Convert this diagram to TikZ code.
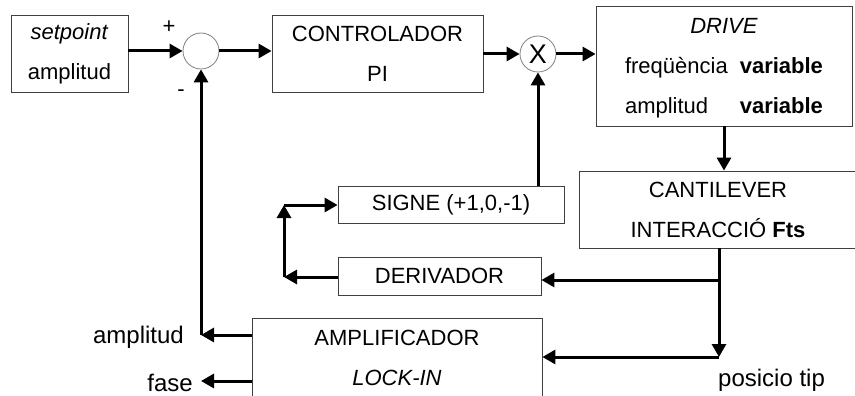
\documentclass[tikz,border=0pt]{standalone}
\usepackage{fontspec}
\setmainfont{Liberation Sans}
\usetikzlibrary{arrows.meta}

\begin{document}
\begin{tikzpicture}[x=1pt, y=-1pt,
  every node/.style={font=\fontsize{22}{40}\selectfont},
  block/.style={draw=black!75, line width=0.8pt, align=center, inner sep=0pt},
  junction/.style={draw=black!50, line width=0.8pt, circle, minimum size=36pt, inner sep=0pt},
  sig/.style={line width=3pt, -{Triangle[length=13pt,width=14pt]}},
  lbl/.style={inner sep=0pt, font=\fontsize{24}{28}\selectfont}]
  \useasboundingbox (0,0) rectangle (855,396);

  % Blocks
  \node[block, minimum width=117pt, minimum height=77pt] (setpoint) at (69.5,53.5) {\textit{setpoint}\\amplitud};
  \node[junction] (sum) at (201,51) {};
  \node[block, minimum width=211pt, minimum height=77pt] (ctrl) at (377.5,53.5) {CONTROLADOR\\PI};
  \node[junction, font=\fontsize{27}{30}\selectfont] (mult) at (538,54) {X};
  \node[block, minimum width=256pt, minimum height=117pt] (drive) at (724,66) {%
    \begin{tabular}{@{}l@{\hspace{12pt}}r@{}}
      \multicolumn{2}{c}{\textit{DRIVE}}\\
      freqüència & \textbf{variable}\\
      amplitud & \textbf{variable}
    \end{tabular}};
  \node[block, minimum width=278pt, minimum height=77pt] (cant) at (718,209.5) {CANTILEVER\\INTERACCIÓ \textbf{Fts}};
  \node[block, minimum width=226pt, minimum height=37pt] (signe) at (451,204.5) {SIGNE (+1,0,-1)};
  \node[block, minimum width=203pt, minimum height=38pt] (deriv) at (439.5,276) {DERIVADOR};
  \node[block, minimum width=290pt, minimum height=80pt] (amp) at (397,358) {AMPLIFICADOR\\\textit{LOCK-IN}};

  % Signs at the summing point
  \node[inner sep=0pt] (plus) at (169,27) {+};
  \node[inner sep=0pt, anchor=base] (minus) at (181,96) {-};

  % Forward path
  \draw[sig] (setpoint.east |- sum) -- (sum.west);
  \draw[sig] (sum.east) -- (ctrl.west |- sum);
  \draw[sig] (ctrl.east |- mult) -- (mult.west);
  \draw[sig] (mult.east) -- (drive.west |- mult);
  \draw[sig] (drive.south) -- (drive.south |- cant.north);

  % Tip position and its branches
  \coordinate (tip) at (719,357);
  \coordinate (split) at (719,280);
  \draw[sig] (cant.south -| tip) -- (tip);
  \draw[sig] (split) -- (deriv.east |- split);
  \draw[sig] (tip) -- (amp.east |- tip);

  % Sign loop
  \coordinate (lpb) at (284,277);
  \coordinate (lpt) at (284,205);
  \draw[sig] (deriv.west |- lpb) -- (lpb);
  \draw[sig] (lpb) -- (lpt);
  \draw[sig] (lpt) -- (signe.west |- lpt);
  \draw[sig] (signe.north -| mult) -- (mult.south);

  % Feedback and outputs
  \coordinate (fb) at (201,335);
  \coordinate (fs) at (201,381);
  \draw[sig] (amp.west |- fb) -- (fb);
  \draw[sig] (fb) -- (sum.south);
  \draw[sig] (amp.west |- fs) -- (fs);

  \node[lbl, anchor=base east] (lamp) at (184,343) {amplitud};
  \node[lbl, anchor=base east] (lfase) at (193,391) {fase};
  \node[lbl, anchor=base west] (ltip) at (718,386) {posicio tip};
\end{tikzpicture}
\end{document}
